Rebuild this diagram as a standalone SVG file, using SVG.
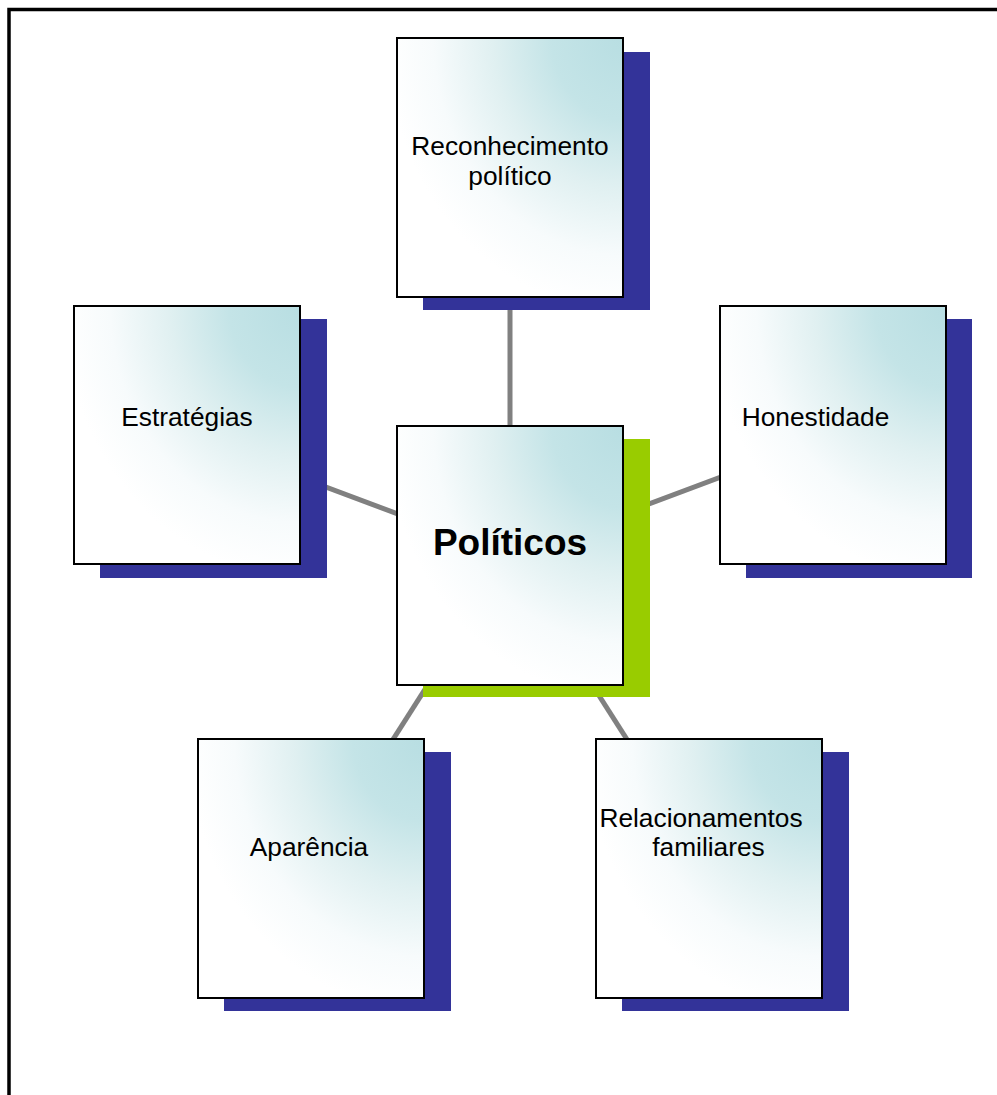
<svg xmlns="http://www.w3.org/2000/svg" width="997" height="1095" viewBox="0 0 997 1095">
<style>
.shadow{fill:#333399}
.shadow-main{fill:#99cc00}
.box{fill:url(#grad);stroke:#000;stroke-width:2}
.lbl{font-family:"Liberation Sans",Arial,sans-serif;font-size:26.3px;fill:#000;text-anchor:middle}
.main{font-family:"Liberation Sans",Arial,sans-serif;font-size:37px;font-weight:bold;fill:#000;text-anchor:middle}
.conn{stroke:#808080;stroke-width:5;fill:none}
</style>
<defs>
<radialGradient id="grad" cx="1" cy="0" r="1.05">
<stop offset="0" stop-color="#b8dee2"/>
<stop offset="0.3" stop-color="#c4e4e7"/>
<stop offset="0.55" stop-color="#e0f0f1"/>
<stop offset="0.8" stop-color="#f7fbfc"/>
<stop offset="1" stop-color="#ffffff"/>
</radialGradient>
</defs>
<rect width="997" height="1095" fill="#fff"/>
<path d="M9,1095 V9.5 H997" fill="none" stroke="#000" stroke-width="3.5"/>
<g id="connectors">
<line class="conn" x1="510" y1="556" x2="510" y2="167"/>
<line class="conn" x1="510" y1="556" x2="187" y2="435"/>
<line class="conn" x1="510" y1="556" x2="833" y2="435"/>
<line class="conn" x1="510" y1="556" x2="311" y2="868"/>
<line class="conn" x1="510" y1="556" x2="709" y2="868"/>
</g>
<g id="node-reconhecimento">
<rect class="shadow" x="423" y="52" width="227" height="258"/>
<rect class="box" x="397" y="38" width="226" height="259"/>
<text class="lbl" x="510" y="155">Reconhecimento</text>
<text class="lbl" x="510" y="185">político</text>
</g>
<g id="node-estrategias">
<rect class="shadow" x="100" y="319" width="227" height="259"/>
<rect class="box" x="74" y="306" width="226" height="258"/>
<text class="lbl" x="187" y="426">Estratégias</text>
</g>
<g id="node-honestidade">
<rect class="shadow" x="746" y="319" width="226" height="259"/>
<rect class="box" x="720" y="306" width="226" height="258"/>
<text class="lbl" x="815.5" y="426">Honestidade</text>
</g>
<g id="node-aparencia">
<rect class="shadow" x="224" y="752" width="227" height="259"/>
<rect class="box" x="198" y="739" width="226" height="259"/>
<text class="lbl" x="309" y="856">Aparência</text>
</g>
<g id="node-relacionamentos">
<rect class="shadow" x="622" y="752" width="227" height="259"/>
<rect class="box" x="596" y="739" width="226" height="259"/>
<text class="lbl" x="701" y="827">Relacionamentos</text>
<text class="lbl" x="708.5" y="856">familiares</text>
</g>
<g id="node-politicos">
<rect class="shadow-main" x="423" y="439" width="227" height="258"/>
<rect class="box" x="397" y="426" width="226" height="259"/>
<text class="main" x="510" y="555">Políticos</text>
</g>
</svg>
